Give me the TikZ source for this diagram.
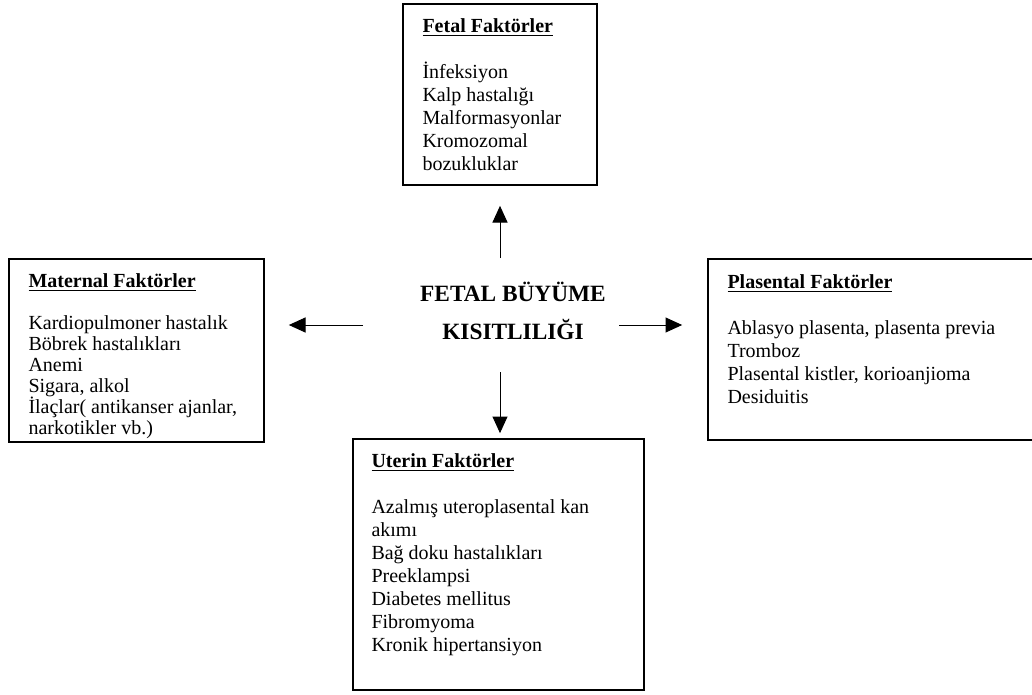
\documentclass[tikz,border=0pt]{standalone}
\usepackage{fontspec}
\setmainfont{Liberation Serif}
\usetikzlibrary{arrows.meta}

\begin{document}
\begin{tikzpicture}[x=0.6pt,y=-0.6pt,
    box/.style={draw,line width=1pt,inner sep=0pt},
    txt/.style={anchor=north west,inner sep=0pt,align=left,
      font=\fontsize{12}{13.8}\selectfont},
    title/.style={inner sep=0pt,align=center,
      font=\fontsize{14}{22.8}\selectfont\bfseries},
    arr/.style={line width=0.6pt,-{Triangle[length=10pt,width=9pt]}}]
  \useasboundingbox (0,0) rectangle (1032,694);

  % boxes
  \node[box,minimum width=116.4pt,minimum height=108.6pt] (fetal) at (500,94.5) {};
  \node[box,minimum width=153pt,minimum height=109.8pt] (maternal) at (136.5,350.5) {};
  \node[box,minimum width=196.8pt,minimum height=108.6pt] (plasental) at (872,349.5) {};
  \node[box,minimum width=174.6pt,minimum height=150.6pt] (uterin) at (498.5,564.5) {};

  \node[txt] (fetaltxt) at ([shift={(20,15)}]fetal.north west)
    {\underline{\textbf{Fetal Faktörler}}\\[13.8pt]
     İnfeksiyon\\ Kalp hastalığı\\ Malformasyonlar\\ Kromozomal\\ bozukluklar};
  \node[txt,font=\fontsize{12}{12.6}\selectfont] (maternaltxt)
    at ([shift={(20,15)}]maternal.north west)
    {\underline{\textbf{Maternal Faktörler}}\\[12.6pt]
     Kardiopulmoner hastalık\\ Böbrek hastalıkları\\ Anemi\\ Sigara, alkol\\
     İlaçlar( antikanser ajanlar,\\ narkotikler vb.)};
  \node[txt] (plasentaltxt) at ([shift={(20,16)}]plasental.north west)
    {\underline{\textbf{Plasental Faktörler}}\\[13.8pt]
     Ablasyo plasenta, plasenta previa\\ Tromboz\\
     Plasental kistler, korioanjioma\\ Desiduitis};
  \node[txt] (uterintxt) at ([shift={(19,15)}]uterin.north west)
    {\underline{\textbf{Uterin Faktörler}}\\[13.8pt]
     Azalmış uteroplasental kan\\ akımı\\ Bağ doku hastalıkları\\ Preeklampsi\\
     Diabetes mellitus\\ Fibromyoma\\ Kronik hipertansiyon};

  \node[title] (fbk) at (513,311) {FETAL BÜYÜME\\KISITLILIĞI};

  % arrows
  \coordinate (aU) at (500,258);
  \coordinate (aD) at (500,372);
  \coordinate (aL) at (363,325);
  \coordinate (aR) at (619,325);
  \draw[arr,shorten >=12pt] (aU) -- (fetal.south);
  \draw[arr,shorten >=3pt] (aD) -- (aD |- uterin.north);
  \draw[arr,shorten >=14.4pt] (aL) -- (aL -| maternal.east);
  \draw[arr,shorten >=15pt] (aR) -- (aR -| plasental.west);
\end{tikzpicture}
\end{document}
